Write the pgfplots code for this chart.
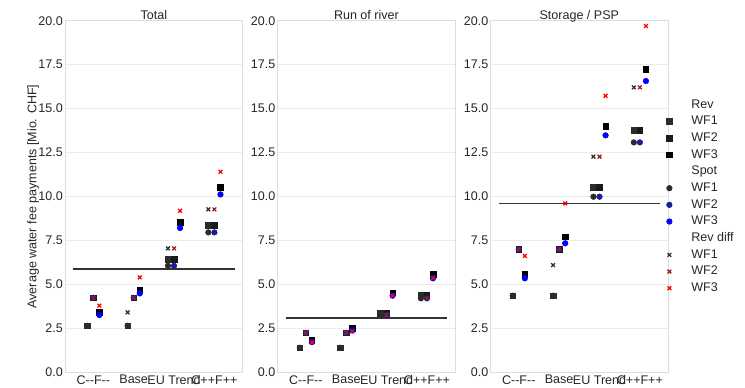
\documentclass[border=0pt]{standalone}
\usepackage{pgfplots}
\pgfplotsset{compat=1.18}
\usepackage{pgfplotstable}
\usepackage{fontspec}
\setmainfont{Liberation Sans}
\definecolor{txt}{HTML}{262626}
\definecolor{spine}{HTML}{DDDDDD}
\definecolor{gridc}{HTML}{EBEBEB}
\definecolor{sqA}{HTML}{2B2B2B}
\definecolor{sqB}{HTML}{1A1A1A}
\definecolor{sqC}{HTML}{000000}
\definecolor{ciA}{HTML}{2B2B2B}
\definecolor{ciB}{HTML}{1C1C99}
\definecolor{ciC}{HTML}{0000FF}
\definecolor{xA}{HTML}{2B2B2B}
\definecolor{xB}{HTML}{991C1C}
\definecolor{xC}{HTML}{FF0000}
\definecolor{hline}{HTML}{333333}
\newcommand{\fs}{\fontsize{9.4}{11}\selectfont}

\pgfplotstableread{
cat rA rB rC sA sB sC dA dB dC
0 2.65 4.24 3.41 2.65 4.24 3.26 2.65 4.24 3.79
1 2.65 4.24 4.68 2.65 4.24 4.49 3.41 4.24 5.40
2 6.43 6.43 8.53 6.06 6.06 8.21 7.05 7.05 9.19
3 8.38 8.38 10.52 7.96 7.96 10.12 9.27 9.27 11.41
}\tabTotal
\pgfplotstableread{
cat rA rB rC sA sB sC dA dB dC
0 1.40 2.25 1.82 1.40 2.25 1.72 1.40 2.25 1.70
1 1.40 2.25 2.50 1.40 2.25 2.38 1.40 2.25 2.33
2 3.36 3.36 4.53 3.26 3.26 4.36 3.26 3.26 4.36
3 4.40 4.40 5.59 4.21 4.21 5.35 4.21 4.21 5.37
}\tabRiver
\pgfplotstableread{
cat rA rB rC sA sB sC dA dB dC
0 4.36 7.00 5.59 4.36 7.00 5.35 4.36 7.00 6.62
1 4.36 7.00 7.71 4.36 7.00 7.34 6.10 7.00 9.61
2 10.52 10.52 14.01 9.99 9.99 13.48 12.27 12.27 15.73
3 13.77 13.77 17.25 13.08 13.08 16.57 16.21 16.21 19.70
}\tabStorage

\pgfplotsset{
  sq/.style={only marks, mark=square*, mark size=2.1pt},
  ci/.style={only marks, mark=*, mark size=2.1pt},
  xx/.style={only marks, mark=x, mark size=2pt, mark options={line width=0.95pt}},
  panel/.style={
    scale only axis, width=133.2pt, height=263.7pt, anchor=south west,
    xmin=-0.7, xmax=3.7, ymin=0, ymax=20,
    xtick={0,1,2,3}, xticklabels={{C-{}-F-{}-},Base,EU Trend,C++F++},
    ytick={0,2.5,5,7.5,10,12.5,15,17.5,20},
    /pgf/number format/fixed, /pgf/number format/fixed zerofill,
    /pgf/number format/precision=1,
    /pgf/number format/assume math mode=true,
    major tick length=0pt,
    ymajorgrids, grid style={draw=gridc, line width=0.8pt},
    axis line style={draw=spine, line width=0.8pt},
    tick label style={font=\fs, text=txt},
    xticklabel style={inner sep=1pt, yshift=-1pt},
    yticklabel style={inner sep=1.5pt},
    title style={font=\fs, text=txt, at={(0.5,1)}, anchor=base, yshift=-5pt, inner sep=0pt},
    label style={font=\fs, text=txt},
  },
}
\newcommand{\drawpanel}[2]{%
  \addplot[forget plot, color=hline, line width=1.3pt] coordinates {(-0.5,#2) (3.5,#2)};
  \addplot[forget plot, sq, color=sqA] table[x expr=\thisrow{cat}-0.15, y=rA]{#1};
  \addplot[forget plot, sq, color=sqB] table[x expr=\thisrow{cat}, y=rB]{#1};
  \addplot[forget plot, sq, color=sqC] table[x expr=\thisrow{cat}+0.15, y=rC]{#1};
  \addplot[forget plot, ci, color=ciA] table[x expr=\thisrow{cat}-0.15, y=sA]{#1};
  \addplot[forget plot, ci, color=ciB] table[x expr=\thisrow{cat}, y=sB]{#1};
  \addplot[forget plot, ci, color=ciC] table[x expr=\thisrow{cat}+0.15, y=sC]{#1};
  \addplot[forget plot, xx, color=xA] table[x expr=\thisrow{cat}-0.15, y=dA]{#1};
  \addplot[forget plot, xx, color=xB] table[x expr=\thisrow{cat}, y=dB]{#1};
  \addplot[forget plot, xx, color=xC] table[x expr=\thisrow{cat}+0.15, y=dC]{#1};
}

\begin{document}
\begin{tikzpicture}
\useasboundingbox (0,0) rectangle (558.75pt,290.25pt);

\begin{axis}[panel, at={(48.8pt,11pt)}, title={Total},
  ylabel={Average water fee payments [Mio. CHF]},
  ylabel style={at={(axis description cs:-0.18,0.5)}, anchor=center}]
\drawpanel{\tabTotal}{5.86}
\end{axis}

\begin{axis}[panel, at={(208.2pt,11pt)}, title={Run of river}]
\drawpanel{\tabRiver}{3.11}
\end{axis}

\begin{axis}[panel, at={(367.9pt,11pt)}, title={Storage / PSP},
  legend style={at={(axis description cs:1,0.5)}, anchor=west, xshift=-2.25pt,
    draw=none, fill=none, inner sep=0pt, column sep=13.5pt, row sep=3.5pt,
    font=\fs, text=txt, nodes={inner sep=0pt, text height=7pt, text depth=2pt}},
  legend cell align=left,
  legend image code/.code={\path[draw=none, fill=none] (-3pt,-3pt) rectangle (3pt,3pt); \draw[#1] plot coordinates {(0pt,0pt)};},
]
\drawpanel{\tabStorage}{9.61}
\addlegendimage{empty legend}\addlegendentry{Rev}
\addlegendimage{sq, color=sqA}\addlegendentry{WF1}
\addlegendimage{sq, color=sqB}\addlegendentry{WF2}
\addlegendimage{sq, color=sqC}\addlegendentry{WF3}
\addlegendimage{empty legend}\addlegendentry{Spot}
\addlegendimage{ci, color=ciA}\addlegendentry{WF1}
\addlegendimage{ci, color=ciB}\addlegendentry{WF2}
\addlegendimage{ci, color=ciC}\addlegendentry{WF3}
\addlegendimage{empty legend}\addlegendentry{Rev diff}
\addlegendimage{xx, color=xA}\addlegendentry{WF1}
\addlegendimage{xx, color=xB}\addlegendentry{WF2}
\addlegendimage{xx, color=xC}\addlegendentry{WF3}
\end{axis}
\end{tikzpicture}
\end{document}
